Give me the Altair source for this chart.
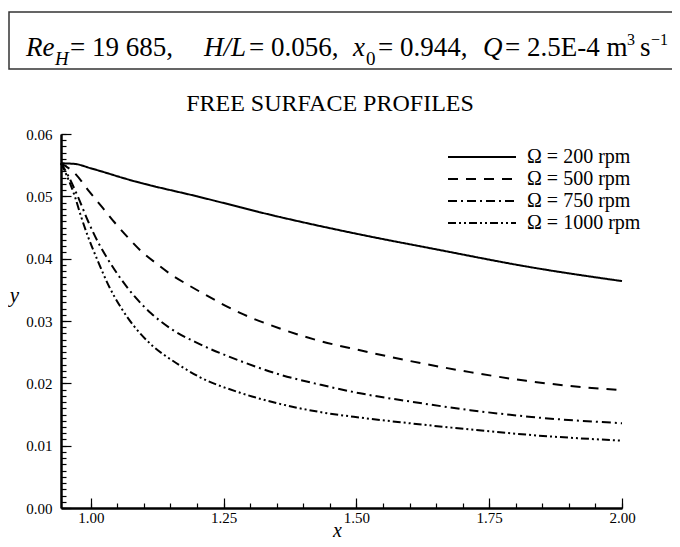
import altair as alt
import pandas as pd

# ---------------- data ----------------
x_200 = [0.944, 0.97, 1.0, 1.083, 1.2, 1.35, 1.5, 1.65, 1.83, 2.0]
y_200 = [0.0553, 0.0552, 0.0545, 0.0524, 0.0500, 0.0468, 0.0440, 0.0415, 0.0386, 0.0364]

x_500 = [0.944, 0.97, 0.995, 1.023, 1.045, 1.07, 1.095, 1.127, 1.152, 1.183,
         1.218, 1.281, 1.356, 1.431, 1.507, 1.60, 1.714, 1.82, 1.90, 2.0]
y_500 = [0.0553, 0.0537, 0.0510, 0.0481, 0.0458, 0.0434, 0.0412, 0.0390, 0.0374, 0.0358,
         0.0341, 0.0313, 0.0288, 0.0268, 0.0253, 0.0236, 0.0218, 0.0204, 0.0196, 0.0189]

x_750 = [0.944, 0.957, 0.976, 0.995, 1.014, 1.033, 1.058, 1.083, 1.114, 1.152,
         1.205, 1.281, 1.356, 1.431, 1.507, 1.60, 1.714, 1.83, 2.0]
y_750 = [0.0553, 0.0534, 0.0499, 0.0460, 0.0426, 0.0398, 0.0366, 0.0339, 0.0312, 0.0287,
         0.0263, 0.0236, 0.0214, 0.0198, 0.0184, 0.0171, 0.0157, 0.0146, 0.0136]

x_1000 = [0.944, 0.954, 0.970, 0.982, 0.995, 1.014, 1.033, 1.058, 1.083, 1.114,
          1.16, 1.205, 1.281, 1.356, 1.431, 1.507, 1.60, 1.714, 1.83, 2.0]
y_1000 = [0.0553, 0.0535, 0.0500, 0.0467, 0.0435, 0.0395, 0.0358, 0.0320, 0.0290, 0.0262,
          0.0233, 0.0210, 0.0185, 0.0167, 0.0154, 0.0145, 0.0136, 0.0126, 0.0117, 0.0108]

series_labels = ["Ω = 200 rpm", "Ω = 500 rpm", "Ω = 750 rpm", "Ω = 1000 rpm"]
dash_patterns = [[1, 0], [10, 8], [9, 4, 2, 4], [8, 3, 2, 3, 2, 3]]

x_major = [1.0, 1.25, 1.5, 1.75, 2.0]
x_minor = [1.0, 1.05, 1.1, 1.15, 1.2, 1.25, 1.3, 1.35, 1.4, 1.45, 1.5,
           1.55, 1.6, 1.65, 1.7, 1.75, 1.8, 1.85, 1.9, 1.95, 2.0]
y_major = [0.0, 0.01, 0.02, 0.03, 0.04, 0.05, 0.06]
y_minor = [round(0.001 * i, 3) for i in range(61)]

rows = []
for lab, xs, ys in zip(series_labels, [x_200, x_500, x_750, x_1000],
                       [y_200, y_500, y_750, y_1000]):
    for xv, yv in zip(xs, ys):
        rows.append({"series": lab, "x": xv, "y": yv})
df = pd.DataFrame(rows)

# ---------------- layout ----------------
W, H = 561, 374
FONT = "Liberation Serif"

xscale = alt.Scale(domain=[0.944, 2.0], nice=False, zero=False)
yscale = alt.Scale(domain=[0, 0.06], nice=False, zero=True)

lines = alt.Chart(df).mark_line(color="black", strokeWidth=2, interpolate="monotone").encode(
    x=alt.X("x:Q", scale=xscale, axis=alt.Axis(
        orient="bottom", values=x_major, format=".2f", ticks=False, grid=False,
        domainColor="black", domainWidth=2.5, labelFont=FONT, labelFontSize=15,
        labelColor="black", labelPadding=2, labelFlush=False, labelOverlap=False,
        title="x", titleFont=FONT, titleFontStyle="italic", titleFontWeight="normal",
        titleFontSize=20, titleColor="black", titleX=276, titleY=28,
        titleBaseline="alphabetic", titleAlign="center")),
    y=alt.Y("y:Q", scale=yscale, axis=alt.Axis(
        orient="left", values=y_major, format=".2f", ticks=False, grid=False,
        domainColor="black", domainWidth=2.5, labelFont=FONT, labelFontSize=15,
        labelColor="black", labelPadding=9, labelFlush=False, labelOverlap=False,
        title="y", titleFont=FONT, titleFontStyle="italic", titleFontWeight="normal",
        titleFontSize=21, titleColor="black", titleAngle=0, titleX=-47, titleY=161,
        titleBaseline="middle", titleAlign="center")),
    strokeDash=alt.StrokeDash("series:N", scale=alt.Scale(domain=series_labels, range=dash_patterns),
        legend=alt.Legend(orient="none", legendX=386, legendY=12, title=None,
                          symbolType="stroke", symbolSize=4624, symbolStrokeWidth=2,
                          symbolStrokeColor="black", clipHeight=22, rowPadding=0,
                          labelFont=FONT, labelFontSize=20, labelColor="black",
                          labelOffset=10, labelLimit=300, padding=0, symbolOffset=0)),
)

def tick_layer(xvals, yvals, size):
    return alt.Chart(df).mark_line(strokeOpacity=0).encode(
        x=alt.X("x:Q", scale=xscale, axis=alt.Axis(
            orient="top", offset=-H, values=xvals, tickSize=size, tickWidth=1.2,
            tickColor="black", labels=False, domain=False, grid=False, title="")),
        y=alt.Y("y:Q", scale=yscale, axis=alt.Axis(
            orient="right", offset=-W, values=yvals, tickSize=size, tickWidth=1.2,
            tickColor="black", labels=False, domain=False, grid=False, title="")),
        detail="series:N",
    )

major = tick_layer(x_major, y_major, 10)
minor = tick_layer(x_minor, y_minor, 5)

ann = pd.DataFrame({"k": [0]})

box = alt.Chart(ann).mark_rect(filled=False, stroke="#333333", strokeWidth=1.5).encode(
    x=alt.value(-52), x2=alt.value(720), y=alt.value(-122), y2=alt.value(-65))

def txt(s, xpx, ypx, size=27, italic=False, align="left"):
    return alt.Chart(ann).mark_text(
        text=s, font=FONT, fontSize=size, fontStyle="italic" if italic else "normal",
        align=align, baseline="alphabetic", color="black").encode(
        x=alt.value(xpx), y=alt.value(ypx))

texts = [
    txt("Re", -35, -78, italic=True),
    txt("H", -6, -69, size=19, italic=True),
    txt("= 19 685,", 9, -78),
    txt("H/L", 143, -78, italic=True),
    txt("= 0.056,", 188, -78),
    txt("x", 292, -78, italic=True),
    txt("0", 305, -69, size=19),
    txt("= 0.944,", 317, -78),
    txt("Q", 422, -78, italic=True),
    txt("= 2.5E-4 m", 444, -78),
    txt("3", 566, -89, size=16),
    txt("s", 579, -78),
    txt("−1", 590, -89, size=16),
    txt("FREE SURFACE PROFILES", 269, -23, size=24, align="center"),
]

chart = alt.layer(lines, major, minor, box, *texts).resolve_axis(
    x="independent", y="independent"
).properties(
    width=W, height=H,
    autosize=alt.AutoSizeParams(type="none"),
    padding={"left": 53, "top": 126, "right": 50, "bottom": 31},
    background="white",
).configure_view(stroke=None)

chart.save("out.html", embed_options={"renderer": "svg", "actions": False})
